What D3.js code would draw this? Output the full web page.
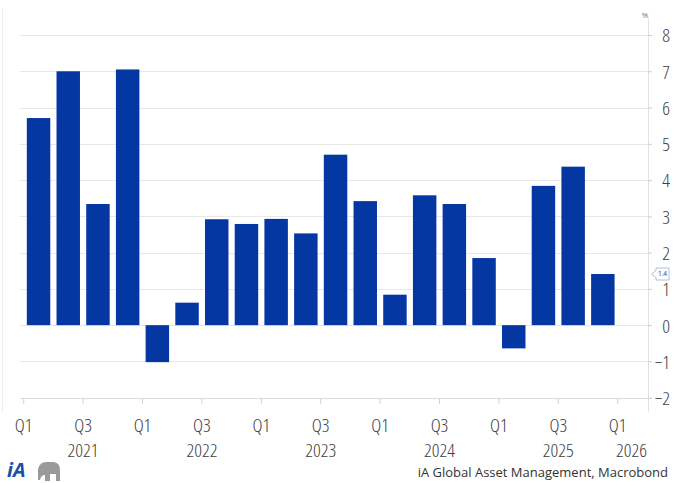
<!DOCTYPE html>
<html><head><meta charset="utf-8">
<script src="https://cdn.jsdelivr.net/npm/d3@7"></script>
<style>
html,body{margin:0;padding:0;background:#fff;}
svg{display:block;font-family:"Open Sans","Noto Sans",sans-serif;}
.tk{font-size:19px;font-weight:300;font-stretch:87.5%;fill:#404040;}
</style></head>
<body>
<svg id="c" width="673" height="483"></svg>
<script>
const quarters = ["2021Q1","2021Q2","2021Q3","2021Q4","2022Q1","2022Q2","2022Q3","2022Q4",
  "2023Q1","2023Q2","2023Q3","2023Q4","2024Q1","2024Q2","2024Q3","2024Q4",
  "2025Q1","2025Q2","2025Q3","2025Q4"];
const values = [5.71,7.0,3.34,7.05,-1.02,0.62,2.92,2.79,2.93,2.53,4.70,3.42,0.84,3.58,3.34,1.85,-0.64,3.84,4.37,1.41];
const yTicks = [-2,-1,0,1,2,3,4,5,6,7,8];
const xTickQuarters = ["2021Q1","2021Q3","2022Q1","2022Q3","2023Q1","2023Q3","2024Q1","2024Q3","2025Q1","2025Q3","2026Q1"];
const xTickLabels = ["Q1","Q3","Q1","Q3","Q1","Q3","Q1","Q3","Q1","Q3","Q1"];
const yearLabels = ["2021","2022","2023","2024","2025","2026"];
const lastLabel = "1.4";
const sourceText = "iA Global Asset Management, Macrobond";

(function(){
const svg = d3.select("#c");
const W = 673, H = 483;
const pLeft = 23.7, pRight = 617.7, axisX = 648, pTop = 35, pBottom = 397.7;
const barColor = "#0537a3";
const gridColor = "#e8e8e8";

const x = d3.scaleBand().domain(quarters).range([pLeft, pRight]).paddingInner(0.21).paddingOuter(0.105);
const step = x.step();
const xStart = q => {
  const i = quarters.indexOf(q);
  return i >= 0 ? pLeft + i * step : pRight;
};
const y = d3.scaleLinear().domain([-2, 8]).range([pBottom, pTop]);

svg.append("line").attr("x1",2.5).attr("x2",2.5).attr("y1",8).attr("y2",H-70).attr("stroke","#eeeeee");

svg.append("g").selectAll("line").data(yTicks).join("line")
  .attr("x1", 20).attr("x2", axisX)
  .attr("y1", d => Math.round(y(d))+0.5).attr("y2", d => Math.round(y(d))+0.5)
  .attr("stroke", d => d === -2 ? "#dcdcdc" : gridColor);

const yAxis = d3.axisRight(y).tickValues(yTicks).tickSize(4).tickFormat(d3.format("d"));
const ga = svg.append("g").attr("transform", `translate(${axisX},0)`).call(yAxis);
ga.attr("font-family", null).attr("font-size", null);
ga.select(".domain").attr("stroke","#e2e2e2").attr("d", `M0.5,18V${pBottom+14}`);
ga.selectAll(".tick line").attr("stroke","#cfcfcf");
ga.selectAll(".tick text").attr("x", 22).attr("text-anchor","end")
  .attr("class","tk").attr("fill", null).attr("dy","0.36em");

svg.append("text").attr("x", 645).attr("y", 18).attr("text-anchor","middle")
  .attr("fill","#777").style("font-size","8px").text("%");

svg.append("g").selectAll("rect").data(values).join("rect")
  .attr("x", (d,i) => x(quarters[i]))
  .attr("width", x.bandwidth())
  .attr("y", d => y(Math.max(0,d)))
  .attr("height", d => Math.abs(y(d) - y(0)))
  .attr("fill", barColor);

const gx = svg.append("g");
gx.selectAll("line").data(xTickQuarters).join("line")
  .attr("x1", d => xStart(d)).attr("x2", d => xStart(d))
  .attr("y1", pBottom+1).attr("y2", pBottom+6).attr("stroke","#cfcfcf");
gx.selectAll("text.q").data(xTickQuarters).join("text").attr("class","q tk")
  .attr("x", d => xStart(d)).attr("y", 432).attr("text-anchor","middle")
  .text((d,i) => xTickLabels[i]);
gx.selectAll("text.yr").data(yearLabels).join("text").attr("class","yr tk")
  .attr("x", (d,i) => i < yearLabels.length-1 ? xStart(d+"Q3") : 647)
  .attr("y", 457).attr("text-anchor", (d,i) => i < yearLabels.length-1 ? "middle" : "end")
  .text(d => d);

const cy = y(values[values.length-1]);
const callout = svg.append("g").attr("transform", `translate(651,${cy})`);
callout.append("path").attr("d","M0.5,0 L5,-3.5 L5,-6 L18,-6 L18,6 L5,6 L5,3.5 Z")
  .attr("fill","#fff").attr("stroke","#9db0d8").attr("stroke-width",0.8);
callout.append("text").attr("x",11.5).attr("y",2.3).attr("text-anchor","middle")
  .attr("fill",barColor).style("font-size","6.5px").text(lastLabel);

svg.append("text").attr("x", 668).attr("y", 477).attr("text-anchor","end")
  .attr("fill","#333").style("font-size","13px").text(sourceText);
svg.append("text").attr("x", 7).attr("y", 477)
  .attr("fill","#1a4fa8").style("font-size","20px").style("font-weight","bold").style("font-style","italic")
  .text("iA");
const lg = svg.append("g").attr("transform","translate(38,461)");
lg.append("path").attr("d","M0,8 Q2,0 10,1 L16,1 Q22,2 22,9 L22,20 L18,20 L18,13 L12,13 L12,20 L7,20 L7,14 Q3,14 2,19 L0,19 Z")
  .attr("fill","#9a9a9a");
})();
</script>
</body></html>
